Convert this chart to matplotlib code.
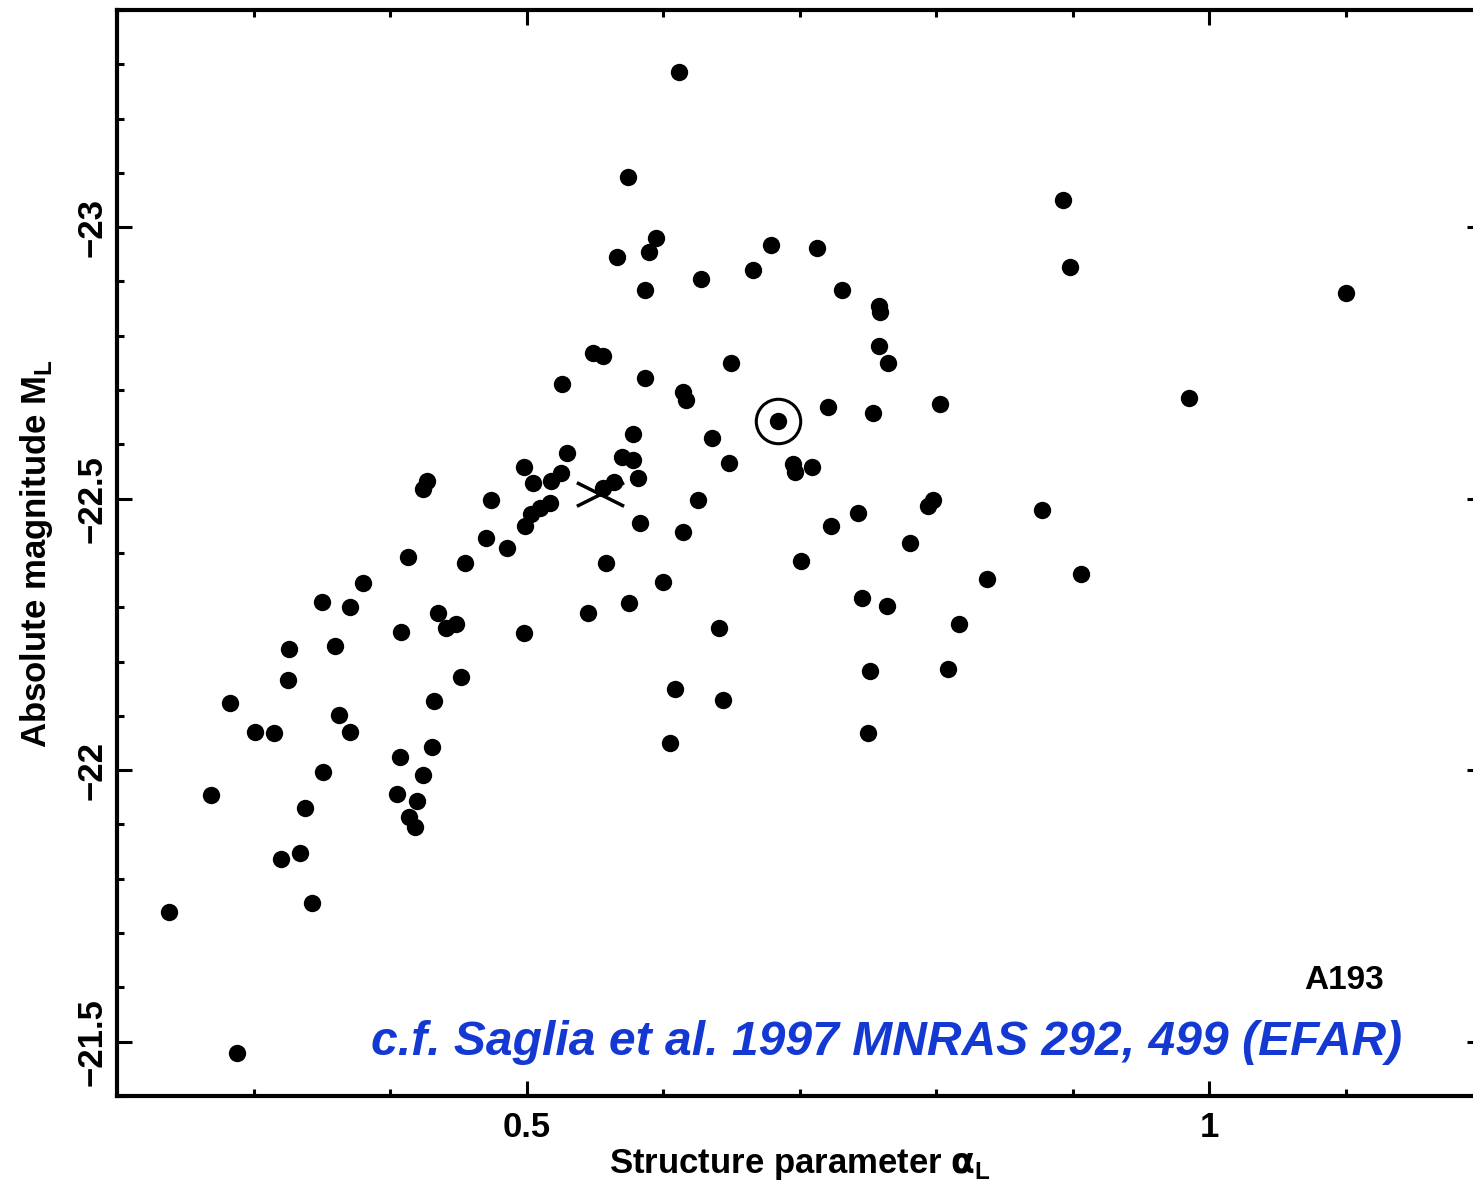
import matplotlib
matplotlib.use('Agg')
import matplotlib.pyplot as plt
from matplotlib.path import Path
from matplotlib.ticker import MultipleLocator

# Structure parameter alpha_L and absolute magnitude M_L of the A193 galaxies
alpha_L = [
    0.612, 0.574, 0.893, 0.595, 0.590, 0.566, 0.679, 0.713, 0.898, 0.666,
    0.628, 0.587, 0.731, 1.100, 0.758, 0.759, 0.549, 0.556, 0.758, 0.765,
    0.650, 0.526, 0.587, 0.615, 0.617, 0.985, 0.803, 0.721, 0.754, 0.684,
    0.578, 0.636, 0.530, 0.570, 0.578, 0.498, 0.427, 0.424, 0.525, 0.518,
    0.505, 0.648, 0.695, 0.697, 0.709, 0.556, 0.564, 0.582, 0.474, 0.517,
    0.510, 0.503, 0.499, 0.470, 0.486, 0.455, 0.583, 0.626, 0.615, 0.558,
    0.600, 0.575, 0.545, 0.498, 0.641, 0.609, 0.644, 0.605, 0.798, 0.794,
    0.743, 0.723, 0.878, 0.781, 0.701, 0.906, 0.837, 0.746, 0.764, 0.817,
    0.809, 0.752, 0.750, 0.413, 0.380, 0.350, 0.371, 0.435, 0.441, 0.448,
    0.408, 0.326, 0.360, 0.325, 0.452, 0.283, 0.432, 0.301, 0.315, 0.363,
    0.371, 0.431, 0.407, 0.351, 0.424, 0.269, 0.405, 0.420, 0.414, 0.418,
    0.338, 0.334, 0.320, 0.343, 0.238, 0.288,
]
M_L = [
    -23.286, -23.093, -23.051, -22.981, -22.955, -22.946, -22.968, -22.962, -22.927, -22.922,
    -22.905, -22.885, -22.885, -22.879, -22.854, -22.843, -22.769, -22.763, -22.782, -22.749,
    -22.749, -22.712, -22.723, -22.697, -22.682, -22.686, -22.675, -22.668, -22.657, -22.644,
    -22.620, -22.612, -22.585, -22.576, -22.572, -22.559, -22.533, -22.517, -22.548, -22.533,
    -22.528, -22.565, -22.563, -22.550, -22.559, -22.520, -22.530, -22.539, -22.497, -22.493,
    -22.482, -22.471, -22.449, -22.428, -22.410, -22.381, -22.456, -22.497, -22.439, -22.381,
    -22.347, -22.307, -22.290, -22.252, -22.261, -22.150, -22.130, -22.051, -22.498, -22.487,
    -22.473, -22.449, -22.480, -22.419, -22.386, -22.362, -22.353, -22.318, -22.303, -22.270,
    -22.187, -22.182, -22.069, -22.392, -22.344, -22.309, -22.301, -22.290, -22.261, -22.270,
    -22.255, -22.224, -22.228, -22.167, -22.171, -22.123, -22.128, -22.071, -22.069, -22.101,
    -22.071, -22.042, -22.025, -21.996, -21.992, -21.955, -21.957, -21.944, -21.913, -21.896,
    -21.931, -21.848, -21.836, -21.756, -21.738, -21.480,
]

# highlighted galaxy (ringed) and the cross
ring_alpha, ring_M = 0.684, -22.644
cross_alpha, cross_M = 0.554, -22.509

xticks = [0.5, 1.0]
xticklabels = ['0.5', '1']
yticks = [-23.0, -22.5, -22.0, -21.5]
yticklabels = ['\u221223', '\u221222.5', '\u221222', '\u221221.5']

plt.rcParams['font.family'] = ['Liberation Sans', 'DejaVu Sans']
plt.rcParams['font.weight'] = 'bold'
plt.rcParams['axes.labelweight'] = 'bold'
plt.rcParams['mathtext.fontset'] = 'custom'
plt.rcParams['mathtext.rm'] = 'Liberation Sans:bold'
plt.rcParams['mathtext.it'] = 'DejaVu Sans:bold'
plt.rcParams['mathtext.bf'] = 'Liberation Sans:bold'

fig = plt.figure(figsize=(14.73, 11.88), dpi=100)
ax = fig.add_axes([117 / 1473, 92 / 1188, 1365 / 1473, 1086 / 1188])

ax.plot(alpha_L, M_L, 'o', color='black', ms=12.5, mec='black', mew=0)
ax.plot([ring_alpha], [ring_M], 'o', mfc='none', mec='black', ms=32, mew=2.2)

flat_cross = Path([(-1, -0.5), (1, 0.5), (-1, 0.5), (1, -0.5)],
                  [Path.MOVETO, Path.LINETO, Path.MOVETO, Path.LINETO])
ax.plot([cross_alpha], [cross_M], marker=flat_cross, ms=34, mew=2.5,
        color='black', linestyle='none')

ax.set_xlim(0.2, 1.2)
ax.set_ylim(-21.4, -23.4)

ax.set_xticks(xticks)
ax.set_xticklabels(xticklabels)
ax.set_yticks(yticks)
ax.set_yticklabels(yticklabels)
ax.xaxis.set_minor_locator(MultipleLocator(0.1))
ax.yaxis.set_minor_locator(MultipleLocator(0.1))

ax.tick_params(which='both', direction='in', top=True, right=True, width=2.2)
ax.tick_params(which='major', length=11, labelsize=25)
ax.tick_params(which='minor', length=5)
ax.tick_params(axis='x', pad=11)
ax.tick_params(axis='y', pad=6, labelrotation=90)
for lab in ax.get_yticklabels():
    lab.set_va('center')

for sp in ax.spines.values():
    sp.set_linewidth(3)

ax.set_xlabel(r'Structure parameter $\alpha_{\rm L}$', fontsize=25)
ax.set_ylabel(r'Absolute magnitude M$_{\rm L}$', fontsize=25)
ax.xaxis.set_label_coords(0.5, -0.063)
ax.xaxis.label.set_va('center')
ax.yaxis.set_label_coords(-0.059, 0.5)
ax.yaxis.label.set_va('center')

ax.text(0.8986, 0.1065, 'A193', transform=ax.transAxes, fontsize=24,
        ha='center', va='center')
ax.text(0.5636, 0.049, 'c.f. Saglia et al. 1997 MNRAS 292, 499 (EFAR)',
        transform=ax.transAxes, fontsize=34.6, color='#1438d2',
        family=['Liberation Sans', 'DejaVu Sans'], style='italic',
        weight='bold', ha='center', va='center')

fig.savefig('out.png', dpi=100)
